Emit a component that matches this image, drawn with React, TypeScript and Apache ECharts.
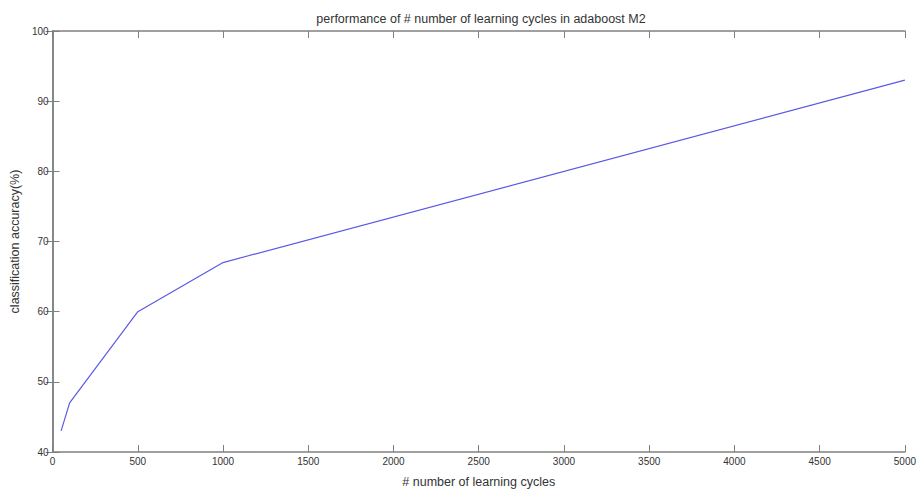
import React, { useEffect, useRef } from "react";
import * as echarts from "echarts";

const cycles = [50, 100, 500, 1000, 5000];
const accuracy = [43, 47, 60, 67, 93];
const titleText = "performance of # number of learning cycles in adaboost M2";
const xName = "# number of learning cycles";
const yName = "classification accuracy(%)";

const FONT = "Liberation Sans, Arial, sans-serif";
const AXIS = "#808080";
const TEXT = "#333333";

export default function App() {
  const ref = useRef<HTMLDivElement>(null);
  useEffect(() => {
    if (!ref.current) return;
    const chart = echarts.init(ref.current, undefined, { renderer: "svg", width: 919, height: 493 });
    const tick = { show: true, inside: true, length: 7, lineStyle: { color: AXIS, width: 1 } };
    const line = { show: true, lineStyle: { color: AXIS, width: 1.5 } };
    const fmt = (v: number) => String(v);
    chart.setOption({
      animation: false,
      backgroundColor: "#ffffff",
      title: {
        text: titleText,
        left: 476,
        top: 7,
        textAlign: "center",
        textStyle: { fontFamily: FONT, fontSize: 12.5, fontWeight: "normal", color: TEXT },
      },
      grid: { left: 49, top: 31, width: 860, height: 431, containLabel: false },
      xAxis: [
        {
          type: "value",
          min: 0,
          max: 5000,
          interval: 500,
          position: "bottom",
          name: xName,
          nameLocation: "middle",
          nameGap: 23,
          nameTextStyle: { fontFamily: FONT, fontSize: 12.5, color: TEXT },
          axisLine: line,
          axisTick: tick,
          splitLine: { show: false },
          axisLabel: { fontFamily: FONT, fontSize: 10, color: TEXT, margin: 4, formatter: fmt },
        },
        {
          type: "value",
          min: 0,
          max: 5000,
          interval: 500,
          position: "top",
          axisLine: line,
          axisTick: tick,
          splitLine: { show: false },
          axisLabel: { show: false },
        },
      ],
      yAxis: [
        {
          type: "value",
          min: 40,
          max: 100,
          interval: 10,
          position: "left",
          name: yName,
          nameLocation: "middle",
          nameGap: 29,
          nameTextStyle: { fontFamily: FONT, fontSize: 12.5, color: TEXT },
          axisLine: line,
          axisTick: tick,
          splitLine: { show: false },
          axisLabel: { fontFamily: FONT, fontSize: 10, color: TEXT, margin: 4, formatter: fmt },
        },
        {
          type: "value",
          min: 40,
          max: 100,
          interval: 10,
          position: "right",
          axisLine: line,
          axisTick: tick,
          splitLine: { show: false },
          axisLabel: { show: false },
        },
      ],
      series: [
        {
          type: "line",
          data: cycles.map((c, i) => [c, accuracy[i]]),
          showSymbol: false,
          symbol: "none",
          lineStyle: { color: "#5a5ae6", width: 1.2 },
        },
      ],
    });
    return () => chart.dispose();
  }, []);
  return <div ref={ref} style={{ width: 919, height: 493, position: "absolute", left: 0, top: 0 }} />;
}
